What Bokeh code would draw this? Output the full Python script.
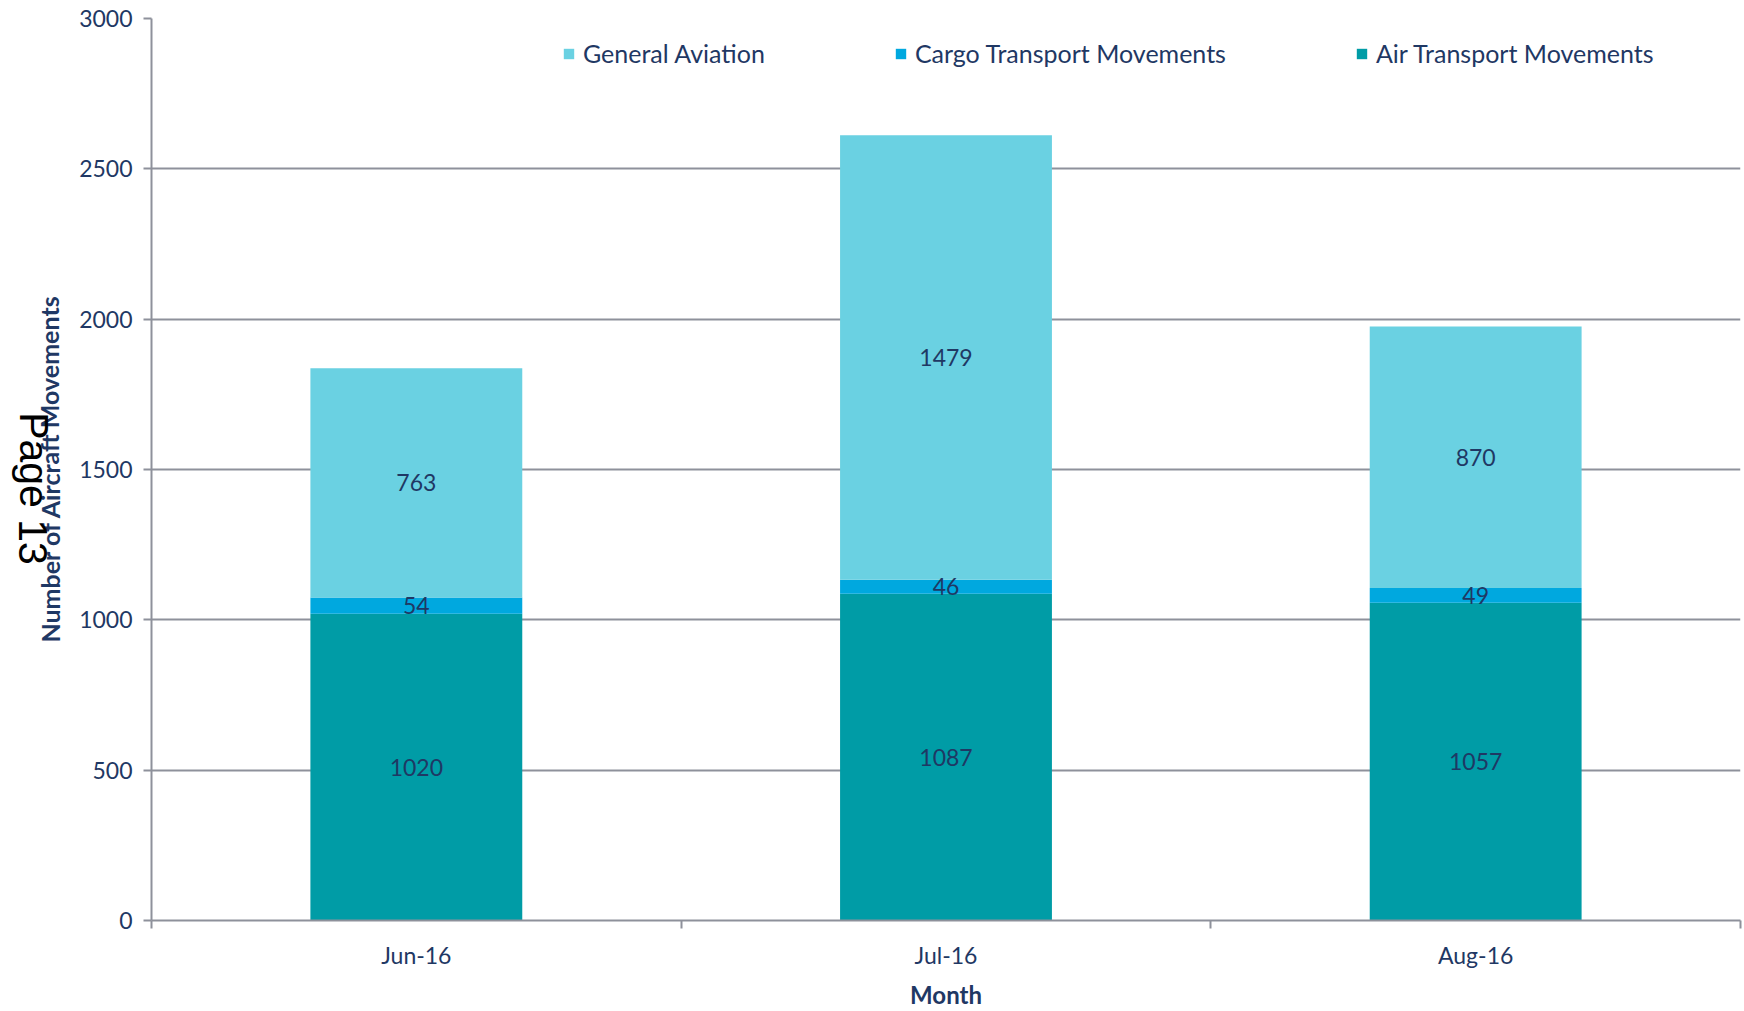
from bokeh.plotting import figure
from bokeh.models import (ColumnDataSource, Range1d, FixedTicker, Legend, LegendItem, Label)
from bokeh.core.properties import value
from bokeh.embed import file_html
from bokeh.resources import INLINE

# ---- data ----
months = ["Jun-16", "Jul-16", "Aug-16"]
air_transport = [1020, 1087, 1057]
cargo_transport = [54, 46, 49]
general_aviation = [763, 1479, 870]
y_ticks = [0, 500, 1000, 1500, 2000, 2500, 3000]

series_names = ["Air Transport Movements", "Cargo Transport Movements", "General Aviation"]
series_keys = ["air", "cargo", "ga"]
colors = ["#009CA6", "#00A8DF", "#6AD1E2"]

FONT = "Lato"
NAVY = "#1F3864"
GRID = "#8E919B"

xs = [i + 0.5 for i in range(len(months))]
src = ColumnDataSource(dict(x=xs, air=air_transport, cargo=cargo_transport, ga=general_aviation))

p = figure(width=1744, height=1011, output_backend="svg", toolbar_location=None,
           x_range=Range1d(0, len(months)), y_range=Range1d(0, 3000),
           min_border_left=151, min_border_right=4, min_border_top=18, min_border_bottom=88)
p.outline_line_color = None
p.background_fill_color = "white"
p.border_fill_color = "white"

renderers = p.vbar_stack(series_keys, x="x", width=0.4, source=src, color=colors, line_color=None)

# value labels, centered within each segment
lx, ly, lt = [], [], []
for i in range(len(months)):
    base = 0
    for vals in (air_transport, cargo_transport, general_aviation):
        v = vals[i]
        lx.append(xs[i]); ly.append(base + v / 2); lt.append(str(v))
        base += v
p.text(x=lx, y=ly, text=lt, text_align="center", text_baseline="middle",
       text_font=value(FONT), text_font_size="23px", text_color=NAVY)

# axes
xa = p.xaxis[0]
xa.ticker = FixedTicker(ticks=xs, minor_ticks=list(range(len(months) + 1)))
xa.major_label_overrides = {x: m for x, m in zip(xs, months)}
xa.major_tick_out = 0
xa.major_tick_in = 0
xa.minor_tick_out = 8
xa.minor_tick_in = 0
xa.minor_tick_line_color = GRID
xa.minor_tick_line_width = 2
xa.axis_line_color = GRID
xa.axis_line_width = 2
xa.major_label_text_font = FONT
xa.major_label_text_font_size = "23px"
xa.major_label_text_color = NAVY
xa.major_label_standoff = 12
xa.axis_label = "Month"
xa.axis_label_text_font = FONT
xa.axis_label_text_font_style = "bold"
xa.axis_label_text_font_size = "24px"
xa.axis_label_text_color = NAVY
xa.axis_label_standoff = 8

ya = p.yaxis[0]
ya.ticker = FixedTicker(ticks=y_ticks, minor_ticks=[])
ya.major_tick_out = 8
ya.major_tick_in = 0
ya.major_tick_line_color = GRID
ya.major_tick_line_width = 2
ya.minor_tick_line_color = None
ya.axis_line_color = GRID
ya.axis_line_width = 2
ya.major_label_text_font = FONT
ya.major_label_text_font_size = "23px"
ya.major_label_text_color = NAVY
ya.major_label_standoff = 11

p.xgrid.grid_line_color = None
p.ygrid.grid_line_color = GRID
p.ygrid.grid_line_width = 2
p.ygrid.ticker = FixedTicker(ticks=y_ticks)

# y axis title, drawn as a label in its own left panel
ytitle = Label(x=3, y=452, x_units="screen", y_units="screen",
               text="Number of Aircraft Movements", angle=1.5708,
               text_font=FONT, text_font_style="bold", text_font_size="25px",
               text_color=NAVY, text_align="center", text_baseline="middle")
p.add_layout(ytitle, "left")

# legend (order: General Aviation, Cargo, Air)
items = [LegendItem(label=series_names[k], renderers=[renderers[k]]) for k in (2, 1, 0)]
legend = Legend(items=items, orientation="horizontal", location=(411, 852),
                spacing=129, padding=0, margin=0, glyph_width=13, glyph_height=13,
                label_standoff=8, label_text_font=FONT, label_text_font_size="25px",
                label_text_color=NAVY, border_line_color=None, background_fill_alpha=0)
p.add_layout(legend, "center")

# page stamp overlay (outermost left panel)
stamp = Label(x=33, y=432, x_units="screen", y_units="screen", text="Page 13",
              angle=-1.5708, text_font="Liberation Sans", text_font_size="41px",
              text_color="black", text_align="center", text_baseline="middle")
p.add_layout(stamp, "left")

open("out.html", "w").write(file_html(p, INLINE))
